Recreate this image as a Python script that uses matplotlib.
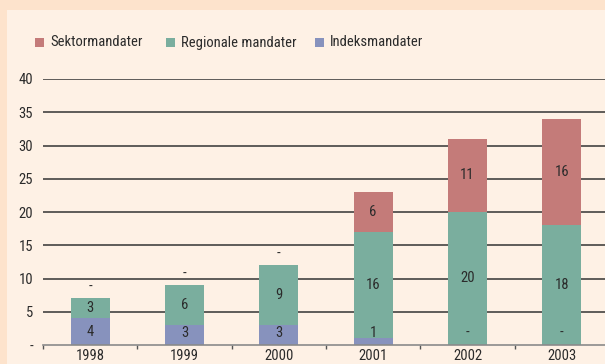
import numpy as np
import matplotlib.pyplot as plt
from matplotlib.patches import Rectangle
from matplotlib import font_manager

years = ["1998", "1999", "2000", "2001", "2002", "2003"]
indeks = [4, 3, 3, 1, 0, 0]
regionale = [3, 6, 9, 16, 20, 18]
sektor = [0, 0, 0, 6, 11, 16]

c_sektor = "#c47b79"
c_region = "#7aae9e"
c_indeks = "#8792bd"
txt = "#2b2b2b"

# pick a narrow face if one is installed
installed = {f.name for f in font_manager.fontManager.ttflist}
narrow = [n for n in ["Liberation Sans Narrow", "Roboto Condensed", "Open Sans Condensed",
                      "Noto Sans Condensed", "DejaVu Sans Condensed"] if n in installed]
font = (narrow[:1] or ["Liberation Sans"]) + ["DejaVu Sans"]
is_narrow = bool(narrow)
fs = 10.5 if is_narrow else 9
plt.rcParams["font.family"] = font

fig = plt.figure(figsize=(6.05, 3.64), dpi=100, facecolor="#fde3cc")
fig.patches.append(Rectangle((7 / 605, 0), 1, 1 - 10 / 364, transform=fig.transFigure,
                             facecolor="#fef1e5", edgecolor="none", zorder=-10))

ax = fig.add_axes([43 / 605, 1 - 345 / 364, 566 / 605, (345 - 79) / 364])
ax.set_facecolor("none")

x = np.arange(len(years))
w = 0.41
ind = np.array(indeks)
reg = np.array(regionale)
sek = np.array(sektor)

ax.bar(x, ind, w, color=c_indeks, zorder=3)
ax.bar(x, reg, w, bottom=ind, color=c_region, zorder=3)
ax.bar(x, sek, w, bottom=ind + reg, color=c_sektor, zorder=3)

def lab(v):
    return "-" if v == 0 else str(v)

for i in range(len(years)):
    # bottom segment: keep label clear of the axis line
    ax.text(x[i], max(ind[i] / 2, 1.8), lab(ind[i]), ha="center", va="center",
            fontsize=fs, color=txt, zorder=4)
    ax.text(x[i], ind[i] + reg[i] / 2, lab(reg[i]), ha="center", va="center",
            fontsize=fs, color=txt, zorder=4)
    top = ind[i] + reg[i]
    if sek[i] == 0:
        ax.text(x[i], top + 1.7, "-", ha="center", va="center", fontsize=fs, color=txt, zorder=4)
    else:
        ax.text(x[i], top + sek[i] / 2, lab(sek[i]), ha="center", va="center",
                fontsize=fs, color=txt, zorder=4)

ax.set_ylim(0, 40)
ax.set_xlim(-0.5, len(years) - 0.5)
yt = np.arange(5, 45, 5)
for y in yt:
    ax.axhline(y, color="#333333", lw=1.1, zorder=1)
ax.set_yticks(np.arange(0, 45, 5))
ax.set_yticklabels(["-"] + [str(v) for v in yt], fontsize=fs, color=txt)
ax.tick_params(axis="y", length=0, pad=7)

ax.set_xticks(x)
ax.set_xticklabels(years, fontsize=fs, color=txt)
ax.set_xticks(np.arange(-0.5, len(years), 1), minor=True)
ax.tick_params(axis="x", which="major", length=0, pad=3)
ax.tick_params(axis="x", which="minor", length=3, color="#555555", width=1)

for s in ["top", "right", "left"]:
    ax.spines[s].set_visible(False)
ax.spines["bottom"].set_color("#8a8a8a")
ax.spines["bottom"].set_linewidth(1.2)
ax.spines["bottom"].set_zorder(5)

# legend row above the plot
entries = [("Sektormandater", c_sektor, 35), ("Regionale mandater", c_region, 166),
           ("Indeksmandater", c_indeks, 315)]
for name, col, px in entries:
    fig.patches.append(Rectangle((px / 605, 1 - 47 / 364), 9 / 605, 9 / 364,
                                 transform=fig.transFigure, facecolor=col, edgecolor="none"))
    fig.text((px + 15) / 605, 1 - 42.5 / 364, name, ha="left", va="center",
             fontsize=10.5, color=txt)

fig.savefig("out.png", dpi=100, facecolor=fig.get_facecolor())
